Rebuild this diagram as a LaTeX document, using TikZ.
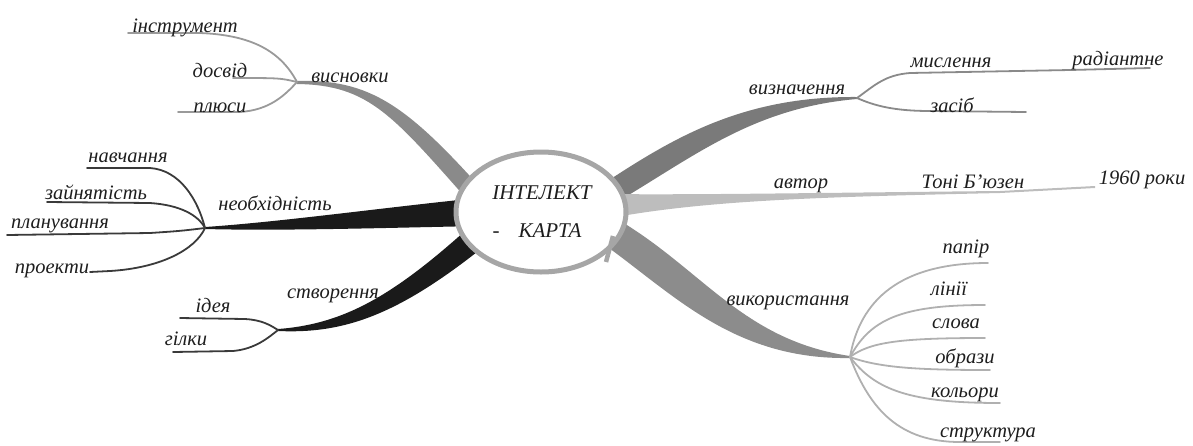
\documentclass[tikz,border=0pt]{standalone}
\usepackage{fontspec}
\setmainfont{Liberation Serif}
\usetikzlibrary{shapes.geometric}
\definecolor{txt}{HTML}{1E1E1E}
\definecolor{ellc}{HTML}{A6A6A6}
\definecolor{brA}{HTML}{8A8A8A}
\definecolor{brDark}{HTML}{1A1A1A}
\definecolor{brB}{HTML}{7A7A7A}
\definecolor{brLight}{HTML}{BDBDBD}
\definecolor{brC}{HTML}{8C8C8C}
\definecolor{subA}{HTML}{9A9A9A}
\definecolor{subDark}{HTML}{3A3A3A}
\definecolor{subB}{HTML}{8A8A8A}
\definecolor{subC}{HTML}{B0B0B0}
\tikzset{
  lbl/.style={font=\fontsize{20.5}{24}\selectfont\itshape, text=txt, anchor=base, inner sep=0pt},
  ctext/.style={font=\fontsize{21}{25}\selectfont\itshape, text=txt, anchor=base, inner sep=0pt},
  subline/.style={line width=1.8pt, line cap=round},
}
\begin{document}
\begin{tikzpicture}[x=1pt,y=-1pt]
\useasboundingbox (0,0) rectangle (1193,445);
% junctions
\coordinate (j1) at (297,82);
\coordinate (j2) at (205,228);
\coordinate (j3) at (278,330);
\coordinate (j4) at (857,98);
\coordinate (j6) at (850,357);
% main branches
\fill[brA] (297,81) .. controls (370,79) and (407,105) .. (487,195) -- (473,206) .. controls (393,116) and (370,85) .. (297,84) -- cycle;
\fill[brDark] (205,227) .. controls (280,222) and (380,208) .. (478,198) -- (478,226) .. controls (380,228) and (280,231) .. (205,229) -- cycle;
\fill[brDark] (278,329) .. controls (345,324) and (395,295) .. (475,222) -- (492,240) .. controls (400,315) and (345,334) .. (278,331) -- cycle;
\fill[brB] (600,186) .. controls (670,140) and (740,96) .. (857,97) -- (857,99) .. controls (750,108) and (690,160) .. (610,206) -- cycle;
\fill[brLight] (600,194) .. controls (700,195) and (800,193) .. (1000,191) -- (1095,186) -- (1095,188) -- (1000,193) .. controls (820,197) and (700,200) .. (600,220) -- cycle;
\fill[brC] (610,215) .. controls (700,265) and (740,340) .. (850,356) -- (850,358) .. controls (730,360) and (670,290) .. (595,238) -- cycle;
% central ellipse
\node[ellipse, draw=ellc, line width=5pt, fill=white, minimum width=170pt, minimum height=120pt, inner sep=0pt] (core) at (541,212) {};
\coordinate (hookA) at (613,236);
\coordinate (hookB) at (606,262);
\draw[ellc, line width=4.5pt] (hookA) -- (hookB);
\node[ctext] (t1) at (542,199) {ІНТЕЛЕКТ};
\node[ctext] (t2) at (496,237) {-};
\node[ctext] (t3) at (550,237) {КАРТА};
% висновки sub-branches
\draw[subline, subA] (j1) .. controls (280,50) and (250,35) .. (200,33) -- (128,33);
\draw[subline, subA] (j1) .. controls (280,78) .. (233,78);
\draw[subline, subA] (j1) .. controls (285,95) and (270,110) .. (240,112) -- (178,112);
% необхідність sub-branches
\draw[subline, subDark] (j2) .. controls (198,200) and (180,170) .. (150,168) -- (87,168);
\draw[subline, subDark] (j2) .. controls (198,215) and (180,205) .. (150,203) -- (47,202);
\draw[subline, subDark] (j2) .. controls (180,231) .. (150,233) -- (7,235);
\draw[subline, subDark] (j2) .. controls (195,250) and (160,268) .. (110,271) -- (90,272);
% створення sub-branches
\draw[subline, subDark] (j3) .. controls (270,325) and (262,320) .. (245,319) -- (180,318);
\draw[subline, subDark] (j3) .. controls (268,338) and (255,349) .. (233,351) -- (173,352);
% визначення sub-branches
\draw[subline, subB] (j4) .. controls (875,85) and (885,75) .. (910,73) -- (1070,70) -- (1150,68);
\draw[subline, subB] (j4) .. controls (875,106) and (895,111) .. (930,111) -- (1026,112);
% використання sub-branches
\draw[subline, subC] (j6) .. controls (860,300) and (900,263) .. (988,263);
\draw[subline, subC] (j6) .. controls (870,320) and (900,305) .. (985,305);
\draw[subline, subC] (j6) .. controls (870,342) and (900,338) .. (985,338);
\draw[subline, subC] (j6) .. controls (880,368) and (920,370) .. (990,370);
\draw[subline, subC] (j6) .. controls (875,390) and (910,403) .. (1000,403);
\draw[subline, subC] (j6) .. controls (870,410) and (900,442) .. (960,442) -- (1000,442);
% labels
\node[lbl] (l1) at (185,32) {інструмент};
\node[lbl] (l2) at (220,77) {досвід};
\node[lbl] (l3) at (220,112) {плюси};
\node[lbl] (l4) at (350,82) {висновки};
\node[lbl] (l5) at (128,162) {навчання};
\node[lbl] (l6) at (96,199) {зайнятість};
\node[lbl] (l7) at (60,228) {планування};
\node[lbl] (l8) at (52,273) {проекти};
\node[lbl] (l9) at (275,210) {необхідність};
\node[lbl] (l10) at (333,298) {створення};
\node[lbl] (l11) at (213,312) {ідея};
\node[lbl] (l12) at (186,345) {гілки};
\node[lbl] (l13) at (797,94) {визначення};
\node[lbl] (l14) at (951,67) {мислення};
\node[lbl] (l15) at (1118,65) {радіантне};
\node[lbl] (l16) at (952,112) {засіб};
\node[lbl] (l17) at (801,188) {автор};
\node[lbl] (l18) at (973,188) {Тоні Б'юзен};
\node[lbl] (l19) at (1142,184) {1960 роки};
\node[lbl] (l20) at (788,305) {використання};
\node[lbl] (l21) at (966,253) {папір};
\node[lbl] (l22) at (949,295) {лінії};
\node[lbl] (l23) at (956,328) {слова};
\node[lbl] (l24) at (965,363) {образи};
\node[lbl] (l25) at (965,397) {кольори};
\node[lbl] (l26) at (988,437) {структура};
\end{tikzpicture}
\end{document}
